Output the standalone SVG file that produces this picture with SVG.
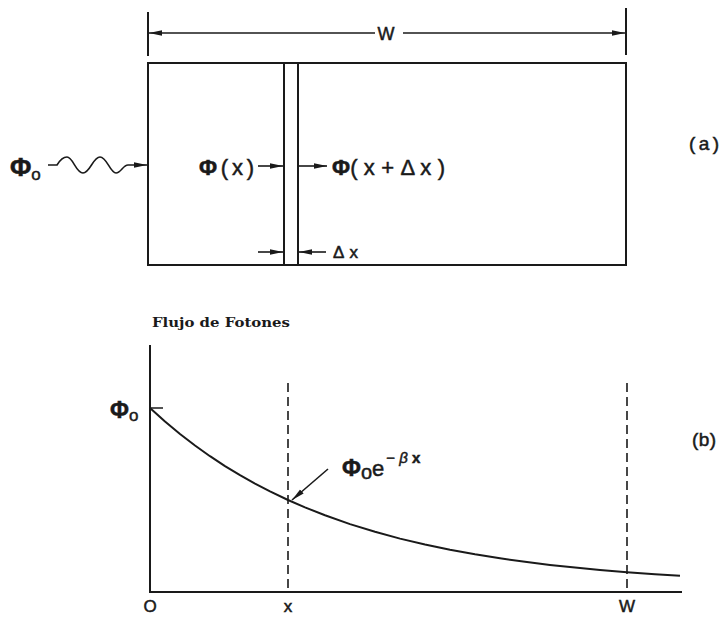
<svg xmlns="http://www.w3.org/2000/svg" width="723" height="619" viewBox="0 0 723 619">
  <defs>
    <marker id="ah" markerUnits="userSpaceOnUse" markerWidth="14" markerHeight="8" refX="13" refY="3.5" orient="auto">
      <path d="M0,0.8 L13,3.5 L0,6.2 z" fill="#1a1a1a"/>
    </marker>
  </defs>
  <style>
    .ln { stroke: #1a1a1a; stroke-width: 2; fill: none; }
    .thin { stroke: #1a1a1a; stroke-width: 1.5; fill: none; }
    .arr { stroke: #1a1a1a; stroke-width: 1.6; fill: none; marker-end: url(#ah); }
    .dash { stroke: #1a1a1a; stroke-width: 1.6; fill: none; stroke-dasharray: 9 5; }
    .t { font-family: "Liberation Sans", "DejaVu Sans", sans-serif; fill: #1a1a1a; stroke: #1a1a1a; stroke-width: 0.5; }
    .phi { font-weight: bold; }
    .serif { font-family: "DejaVu Serif", "Liberation Serif", serif; font-weight: bold; fill: #1a1a1a; }
  </style>
  <rect width="723" height="619" fill="#ffffff"/>

  <!-- Panel (a) -->
  <g id="panel-a">
    <g id="slab">
      <rect x="148" y="63" width="478" height="202" class="ln"/>
    </g>
    <g id="strip">
      <line x1="284" y1="63" x2="284" y2="265" class="ln"/>
      <line x1="298" y1="63" x2="298" y2="265" class="ln"/>
    </g>
    <g id="dimension-w">
      <line x1="148" y1="12" x2="148" y2="56" class="ln"/>
      <line x1="626" y1="8" x2="626" y2="55" class="ln"/>
      <text x="386" y="40" class="t" font-size="18" text-anchor="middle">W</text>
    </g>
    <g id="label-phi0-a">
      <text x="10" y="176" class="t" font-size="26"><tspan class="phi">Φ</tspan><tspan font-size="17" dy="4">o</tspan></text>
    </g>
    <g id="label-phix">
      <text x="199" y="175" class="t" font-size="22" textLength="55" lengthAdjust="spacing"><tspan class="phi">Φ</tspan>(x)</text>
    </g>
    <g id="label-phixdx">
      <text x="332" y="175" class="t" font-size="22" textLength="113" lengthAdjust="spacing"><tspan class="phi">Φ</tspan>( x + Δ x )</text>
    </g>
    <g id="label-dx">
      <text x="333" y="258" class="t" font-size="17" textLength="25" lengthAdjust="spacing">Δx</text>
    </g>
    <g id="label-a">
      <text x="689" y="150" class="t" font-size="19" textLength="30" lengthAdjust="spacing">(a)</text>
    </g>
  </g>

  <!-- Panel (b) -->
  <g id="panel-b">
    <g id="axes">
      <polyline points="150,345 150,592 682,592" class="ln"/>
      <line x1="150" y1="408" x2="163" y2="408" class="thin"/>
    </g>
    <g id="title">
      <text x="152" y="327" class="serif" font-size="13.5" textLength="138" lengthAdjust="spacingAndGlyphs">Flujo de Fotones</text>
    </g>
    <g id="guides">
      <line x1="288" y1="383" x2="288" y2="592" class="dash"/>
      <line x1="627" y1="383" x2="627" y2="592" class="dash"/>
    </g>
    <g id="curve">
      <polyline class="ln" stroke-linejoin="round" points="150,408 165,421.5 180,434 195,445.5 210,456.2 225,466.1 240,475.2 255,483.6 270,491.4 288,500 305,507.4 325,515.3 350,524.1 375,531.8 400,538.6 425,544.5 450,549.7 475,554.3 500,558.3 525,561.8 550,564.9 575,567.6 600,570 627,572.2 655,574.2 680,575.8"/>
    </g>
    <g id="label-phi0-b">
      <text x="110" y="418" class="t" font-size="23"><tspan class="phi">Φ</tspan><tspan font-size="17" dy="3">o</tspan></text>
    </g>
    <g id="label-exp">
      <text x="342" y="476" class="t" font-size="23"><tspan class="phi">Φ</tspan><tspan font-size="20" dy="3">o</tspan><tspan font-size="22" dy="-3">e</tspan><tspan font-size="15" dy="-13" dx="2">− </tspan><tspan font-size="15" font-style="italic">β</tspan><tspan font-size="15" font-weight="bold"> x</tspan></text>
    </g>
    <g id="label-b">
      <text x="692" y="446" class="t" font-size="19" textLength="24" lengthAdjust="spacing">(b)</text>
    </g>
    <g id="ticks">
      <text x="150" y="612" class="t" font-size="17" text-anchor="middle">O</text>
      <text x="288" y="612" class="t" font-size="17" text-anchor="middle">x</text>
      <text x="627" y="612" class="t" font-size="17" text-anchor="middle">W</text>
    </g>
  </g>

  <!-- Connectors -->
  <g id="connectors">
    <line x1="375" y1="33" x2="149" y2="33" class="arr"/>
    <line x1="403" y1="33" x2="625" y2="33" class="arr"/>
    <path d="M48,165 L57,165 C60,160 63,157 67,157 C73,157 76,173 83,173 C90,173 93,157 100,157 C107,157 110,173 116,173 C121,173 123,165 128,165 L147,165" class="arr"/>
    <line x1="258" y1="166" x2="283" y2="166" class="arr"/>
    <line x1="299" y1="166" x2="327" y2="166" class="arr"/>
    <line x1="258" y1="252" x2="283" y2="252" class="arr"/>
    <line x1="326" y1="252" x2="299" y2="252" class="arr"/>
    <line x1="328" y1="469" x2="292" y2="500" class="arr"/>
  </g>
</svg>
